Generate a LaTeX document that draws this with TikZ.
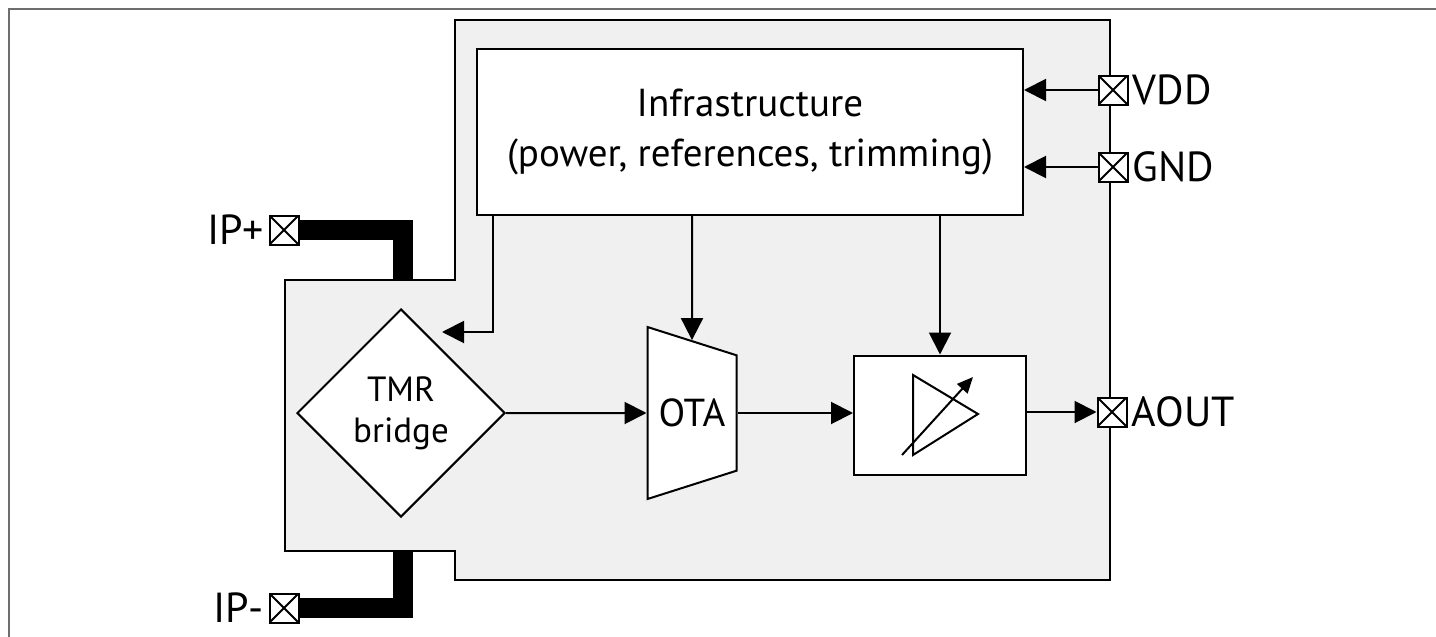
\documentclass[tikz,border=0pt]{standalone}
\usepackage{fontspec}
\setmainfont{PT Sans}
\usetikzlibrary{arrows.meta}
\usetikzlibrary{shapes.geometric}
\usetikzlibrary{positioning}

\definecolor{chipgray}{HTML}{F0F0F0}
\definecolor{framegray}{HTML}{6E6E6E}

\begin{document}
\begin{tikzpicture}[x=0.5pt, y=-0.5pt]

\tikzset{
    myarrow/.style={-{Triangle[length=11pt,width=11pt]}, line width=1pt},
    smallarrow/.style={-{Triangle[length=8pt,width=7pt]}, line width=1pt},
    myline/.style={line width=1pt},
    block/.style={draw, line width=1pt, fill=white, inner sep=0pt, align=center},
    bus/.style={line width=10pt, line join=miter},
    padlabel/.style={inner sep=0pt, font=\fontsize{21}{23}\selectfont}
}

\tikzset{pad/.style={draw, line width=1pt, fill=white, minimum size=14.5pt, inner sep=0pt,
    path picture={
        \draw[line width=1pt] (path picture bounding box.south west) -- (path picture bounding box.north east)
            (path picture bounding box.north west) -- (path picture bounding box.south east);
        }
    }
}

\useasboundingbox (0,0) rectangle (1436,637);

%%%%%%%%%%%%%%%%%%%%%%%%%%%%%%%%%%%%%%%%%%%%%%%%%%%%%%%%%
%                       Begin Picture                   %
%%%%%%%%%%%%%%%%%%%%%%%%%%%%%%%%%%%%%%%%%%%%%%%%%%%%%%%%%

%frame
\draw[framegray, line width=1pt] (9,637) -- (9,9) -- (1436,9);

%chip outline
\draw[myline, fill=chipgray] (455,20) -- (1110,20) -- (1110,580) -- (455,580) -- (455,551)
    -- (285,551) -- (285,280) -- (455,280) -- cycle;
\coordinate (ipin) at (403,280);
\coordinate (ipout) at (403,551);

%infrastructure
\node[block, minimum width=273pt, minimum height=83pt, font=\fontsize{19.5}{25}\selectfont] (infra) at (750,132)
    {Infrastructure\\(power, references, trimming)};

%TMR bridge
\node[block, diamond, minimum width=104pt, minimum height=104pt, font=\fontsize{17.5}{20.5}\selectfont] (tmr) at (401,413)
    {TMR\\bridge};
\coordinate (tmrbias) at (442,332);

%OTA
\node[block, trapezium, trapezium angle=67, shape border rotate=270, trapezium stretches body,
    minimum width=86pt, minimum height=44.5pt, font=\fontsize{19.5}{21}\selectfont] (ota) at (692,413) {OTA};

%amplifier
\node[block, minimum width=86pt, minimum height=59.5pt] (amp) at (940,415) {};
\draw[myline] ([shift={(-27,-40)}]amp.center) -- ([shift={(-27,40)}]amp.center)
    -- ([shift={(38,-1)}]amp.center) -- cycle;
\draw[smallarrow] ([shift={(-38,40)}]amp.center) -- ([shift={(33,-38)}]amp.center);

%pads
\node[pad] (vdd) at (1113,90) {};
\node[padlabel, right=2pt of vdd] (vddlabel) {VDD};
\node[pad] (gnd) at (1113,167) {};
\node[padlabel, right=2pt of gnd] (gndlabel) {GND};
\node[pad] (aout) at (1112,412) {};
\node[padlabel, right=2pt of aout] (aoutlabel) {AOUT};
\node[pad] (ipp) at (284,230) {};
\node[padlabel, left=2pt of ipp] (ipplabel) {IP+};
\node[pad] (ipm) at (284,608) {};
\node[padlabel, left=2pt of ipm] (ipmlabel) {IP-};

%current path
\draw[bus] (ipp.east) -| (ipin);
\draw[bus] (ipm.east) -| (ipout);

%supply
\draw[myarrow] (vdd.west) -- (vdd.west -| infra.east);
\draw[myarrow] (gnd.west) -- (gnd.west -| infra.east);
\draw[myarrow] ([xshift=8.5pt]infra.south west) |- (tmrbias);
\draw[myarrow] (infra.south -| ota) -- (ota);
\draw[myarrow] (infra.south -| amp) -- (amp);

%signal path
\draw[myarrow] (tmr.east) -- (ota.west);
\draw[myarrow] (ota.east) -- (ota.east -| amp.west);
\draw[myarrow] (amp.east |- aout.west) -- (aout.west);

\end{tikzpicture}
\end{document}
